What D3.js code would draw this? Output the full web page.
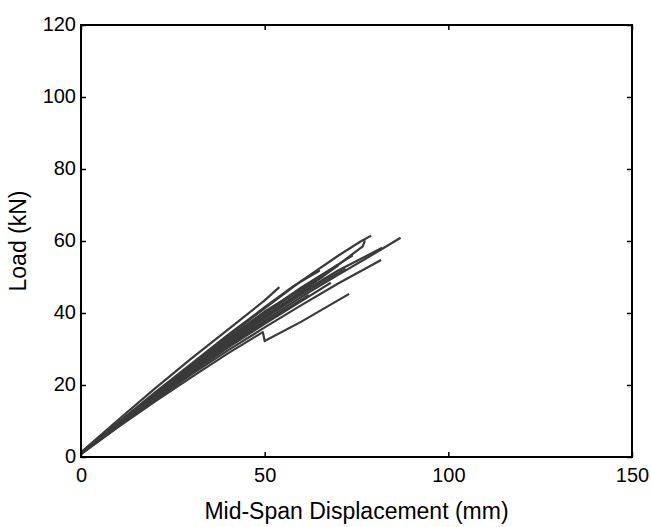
<!DOCTYPE html>
<html>
<head>
<meta charset="utf-8">
<script src="https://cdn.jsdelivr.net/npm/d3@7"></script>
<style>
  body { margin: 0; background: #fff; }
  svg { font-family: "Liberation Sans", Arial, sans-serif; }
</style>
</head>
<body>
<svg width="651" height="527"></svg>
<script>
const width = 651, height = 527;
const svg = d3.select("svg");

// Axis ticks
const xTicks = [0, 50, 100, 150];
const yTicks = [0, 20, 40, 60, 80, 100, 120];

// Test curves: [displacement mm, load kN]
const beam1 = [[0, 1.3], [10, 10.2], [20, 18.9], [30, 27.3], [40, 35.4], [50, 43.5], [54, 47.2]];
const beam2 = [[0, 1.1], [10, 9.4], [20, 17.6], [30, 25.6], [40, 33.6], [50, 41.3], [60, 48.9], [70, 55.9], [76, 59.8], [79, 61.5]];
const beam3 = [[0, 1.0], [10, 9.1], [20, 17.1], [30, 24.8], [40, 32.3], [50, 39.7], [60, 46.8], [70, 53.4], [76.7, 58.5], [77.3, 60.2]];
const beam4 = [[0, 1.0], [10, 8.7], [20, 16.4], [30, 23.8], [40, 31.0], [50, 37.9], [60, 44.5], [70, 50.6], [80, 56.6], [87, 60.9]];
const beam5 = [[0, 1.0], [10, 8.9], [20, 16.9], [30, 24.4], [40, 31.8], [50, 38.9], [60, 45.7], [70, 51.8], [82, 58.1]];
const beam6 = [[0, 0.9], [10, 8.4], [20, 15.8], [30, 22.9], [40, 29.6], [50, 36.0], [60, 42.2], [70, 48.2], [81.7, 54.7]];
const beam7 = [[0, 0.8], [10, 8.2], [20, 15.3], [30, 22.1], [40, 28.8], [49.5, 34.7], [50, 32.2], [60, 37.6], [73, 45.3]];
const beam8 = [[0, 1.0], [10, 9.1], [20, 17.2], [30, 25.1], [40, 32.7], [50, 40.1], [60, 47.1], [74, 56.0]];
const beam9 = [[0, 1.0], [10, 8.9], [20, 16.8], [30, 24.5], [40, 31.9], [50, 39.1], [60, 46.0], [70, 53.2]];
const beam10 = [[0, 1.1], [10, 9.2], [20, 17.3], [30, 25.2], [40, 33.0], [50, 40.4], [60, 46.6], [66, 50.2]];
const beam11 = [[0, 1.0], [10, 8.6], [20, 16.2], [30, 23.6], [40, 30.7], [50, 37.4], [62, 45.0]];
const beam12 = [[0, 0.9], [10, 8.5], [20, 16.0], [30, 23.3], [40, 30.4], [50, 37.0], [60, 43.3], [68, 48.4]];
const beam13 = [[0, 1.0], [10, 8.8], [20, 16.6], [30, 24.2], [40, 31.5], [50, 38.5], [60, 45.2], [72, 52.3]];
const beam14 = [[0, 1.2], [10, 9.5], [20, 17.8], [30, 25.9], [40, 33.9], [50, 41.6], [58, 47.6], [65, 51.8]];

const curves = [beam1, beam2, beam3, beam4, beam5, beam6, beam7, beam8, beam9, beam10, beam11, beam12, beam13, beam14];

const pLeft = 81, pRight = 632, pTop = 25, pBottom = 457;

const x = d3.scaleLinear().domain([0, 150]).range([pLeft, pRight]);
const y = d3.scaleLinear().domain([0, 120]).range([pBottom, pTop]);

// Curves
const line = d3.line().x(d => x(d[0])).y(d => y(d[1]));
svg.append("g")
    .selectAll("path")
    .data(curves)
    .enter().append("path")
    .attr("d", line)
    .attr("fill", "none")
    .attr("stroke", "#3a3a3a")
    .attr("stroke-width", 2.2)
    .attr("stroke-linejoin", "round");

// Axes, ticks pointing inward (MATLAB box style)
const tick = 5;
svg.append("g")
    .attr("transform", `translate(0,${pBottom})`)
    .call(d3.axisBottom(x).tickValues(xTicks).tickSize(-tick).tickPadding(11).tickSizeOuter(0))
    .call(g => g.select(".domain").remove())
    .call(g => g.selectAll("line").attr("stroke", "#000").attr("stroke-width", 1.5))
    .selectAll("text")
    .attr("fill", "#000")
    .style("font-size", "20px");

svg.append("g")
    .attr("transform", `translate(${pLeft},0)`)
    .call(d3.axisLeft(y).tickValues(yTicks).tickSize(-tick).tickPadding(5).tickSizeOuter(0))
    .call(g => g.select(".domain").remove())
    .call(g => g.selectAll("line").attr("stroke", "#000").attr("stroke-width", 1.5))
    .selectAll("text")
    .attr("fill", "#000")
    .attr("dy", "0.28em")
    .style("font-size", "20px");

// Mirrored ticks on top and right
svg.append("g")
    .attr("transform", `translate(0,${pTop})`)
    .call(d3.axisTop(x).tickValues(xTicks).tickSize(-tick).tickFormat("").tickSizeOuter(0))
    .call(g => g.select(".domain").remove())
    .selectAll("line").attr("stroke", "#000").attr("stroke-width", 1.5);

svg.append("g")
    .attr("transform", `translate(${pRight},0)`)
    .call(d3.axisRight(y).tickValues(yTicks).tickSize(-tick).tickFormat("").tickSizeOuter(0))
    .call(g => g.select(".domain").remove())
    .selectAll("line").attr("stroke", "#000").attr("stroke-width", 1.5);

// Box
svg.append("rect")
    .attr("x", pLeft)
    .attr("y", pTop)
    .attr("width", pRight - pLeft)
    .attr("height", pBottom - pTop)
    .attr("fill", "none")
    .attr("stroke", "#000")
    .attr("stroke-width", 2);

// Axis labels
svg.append("text")
    .attr("x", (pLeft + pRight) / 2)
    .attr("y", 519)
    .attr("text-anchor", "middle")
    .style("font-size", "23px")
    .text("Mid-Span Displacement (mm)");

svg.append("text")
    .attr("transform", "rotate(-90)")
    .attr("x", -(pTop + pBottom) / 2)
    .attr("y", 26)
    .attr("text-anchor", "middle")
    .style("font-size", "23px")
    .text("Load (kN)");
</script>
</body>
</html>
